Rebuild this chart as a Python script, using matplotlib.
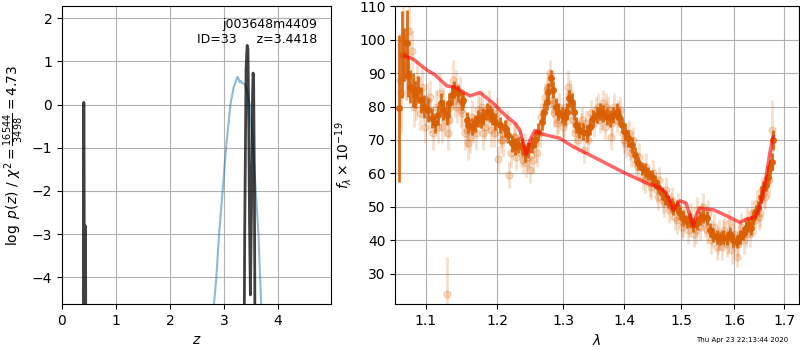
import matplotlib
matplotlib.use('Agg')
import matplotlib.pyplot as plt
from matplotlib.ticker import NullLocator

# fit summary
root = 'j003648m4409'
obj_id = 33
z_best = 3.4418
chi2_tot = 16544
dof = 3498
stamp = 'Thu Apr 23 22:13:44 2020'

# log p(z) from the fine grid (values far below the axis are clipped)
z_pz = [0.00, 0.390, 0.402, 0.407, 0.421, 0.432, 0.436, 0.447, 1.50, 3.36,
        3.385, 3.41, 3.43, 3.445, 3.46, 3.475, 3.49, 3.51, 3.53, 3.54,
        3.55, 3.565, 3.58, 5.0]
log_pz = [-20, -9, 0.05, 0.03, -8, -2.81, -2.85, -9, -20, -9,
          -3, 0.8, 1.37, 1.3, -0.5, -2.8, -4.41, -2.5, 0.2, 0.73,
          0.6, -2, -7, -20]

# coarse-grid curve
z_coarse = [2.78, 2.81, 2.86, 2.91, 2.975, 3.04, 3.12, 3.18, 3.25, 3.27,
            3.29, 3.31, 3.33, 3.38, 3.43, 3.48, 3.54, 3.59, 3.64, 3.67, 3.71]
log_coarse = [-5.5, -4.7, -4.0, -3.0, -2.0, -1.0, 0.0, 0.4, 0.64, 0.6,
              0.52, 0.55, 0.5, 0.48, 0.3, 0.0, -1.0, -2.0, -3.0, -4.0, -5.2]

# binned spectrum
wave_bin = [1.0650, 1.0685, 1.0715, 1.0754, 1.0771, 1.0793, 1.0836, 1.0859, 1.0902, 1.0938,
            1.0982, 1.1035, 1.1081, 1.1126, 1.1170, 1.1207, 1.1238, 1.1285, 1.1316, 1.1353,
            1.1389, 1.1445, 1.1492, 1.1514, 1.1562, 1.1584, 1.1632, 1.1679, 1.1726, 1.1764,
            1.1797, 1.1846, 1.1893, 1.1927, 1.1966, 1.2039, 1.2112, 1.2160, 1.2211, 1.2260,
            1.2309, 1.2360, 1.2409, 1.2459, 1.2511, 1.2561, 1.2611, 1.2664, 1.2699, 1.2741,
            1.2765, 1.2803, 1.2843, 1.2885, 1.2921, 1.2975, 1.3027, 1.3063, 1.3095, 1.3133,
            1.3170, 1.3202, 1.3255, 1.3309, 1.3374, 1.3428, 1.3482, 1.3537, 1.3592, 1.3646,
            1.3703, 1.3758, 1.3813, 1.3870, 1.3914, 1.3954, 1.4010, 1.4067, 1.4125, 1.4181,
            1.4238, 1.4297, 1.4355, 1.4412, 1.4472, 1.4530, 1.4588, 1.4648, 1.4707, 1.4766,
            1.4827, 1.4856, 1.4917, 1.4977, 1.5037, 1.5100, 1.5160, 1.5221, 1.5284, 1.5345,
            1.5407, 1.5470, 1.5532, 1.5595, 1.5659, 1.5722, 1.5785, 1.5850, 1.5914, 1.5978,
            1.6044, 1.6108, 1.6173, 1.6226, 1.6271, 1.6319, 1.6370, 1.6424, 1.6470, 1.6518,
            1.6570, 1.6624, 1.6671, 1.6705, 1.6740, 1.6772]
flux_bin = [79.5, 95.5, 95.5, 99, 89, 86, 85, 83.5, 85, 82,
            80, 79, 76.5, 75, 77.5, 81, 79, 77.5, 81, 83.5,
            85, 84, 81.5, 82, 76, 74.5, 74, 75, 76.5, 76,
            77, 78.5, 78, 77, 75.5, 74.5, 73.5, 71.5, 69, 68,
            68.5, 68, 66, 67, 68.5, 70, 72.5, 75.5, 78.5, 81.5,
            84.5, 88.5, 85, 80, 78.5, 77.5, 77, 78.5, 82.5, 81.5,
            78.5, 74.5, 73, 72.5, 72, 74, 76.5, 77.5, 78.5, 78,
            77, 76.5, 77.5, 78.5, 77, 74.5, 72.5, 70.5, 68.5, 65.5,
            63, 61.5, 61, 60, 59, 57.5, 56, 54, 52.5, 51.5,
            50.5, 49.6, 50, 48, 46.6, 45.6, 46, 44.6, 45, 46.6,
            47, 46.6, 43, 41.6, 41, 40.6, 41, 40.6, 42, 40,
            39.6, 41, 42, 43.6, 44.6, 43.6, 46.6, 48.6, 49.6, 53,
            55.6, 56.6, 59, 61.6, 63.5, 70]
err_bin = [22, 13, 8, 10, 6, 5, 5, 4, 4, 4,
           3.5, 3.5, 3, 3, 3, 3, 3, 3, 3, 3,
           2.5, 2.5, 2.5, 2.5, 2.5, 2.5, 2.5, 2.5, 2.5, 2.5,
           2.5, 2.5, 2.5, 2.5, 2.5, 2.5, 2.5, 2.5, 2.5, 2.5,
           2.5, 2.5, 2.5, 2.5, 2.5, 2.5, 2.5, 2.5, 2.5, 2.5,
           2.5, 2.5, 2.5, 2.5, 2.5, 2.5, 2.5, 2.5, 2.5, 2.5,
           2.5, 2.5, 2.5, 2.5, 2.5, 2.5, 2.5, 2.5, 2.5, 2.5,
           2.5, 2.5, 2.5, 2.5, 2.5, 2.5, 2.5, 2.5, 2.5, 2.5,
           2, 2, 2, 2, 2, 2, 2, 2, 2, 2,
           2, 2, 2, 2, 2, 2, 2, 2, 2, 2,
           2, 2, 2, 2, 2, 2, 2, 2, 2, 2,
           2, 2, 2, 2, 2, 2, 2, 2, 2, 2,
           2, 2, 2, 2, 2.5, 3]

# unbinned spectrum
wave_raw = [1.0660, 1.0700, 1.0735, 1.0783, 1.0815, 1.0850, 1.0880, 1.0920, 1.0955, 1.0995,
            1.1020, 1.1055, 1.1100, 1.1145, 1.1190, 1.1220, 1.1260, 1.1285, 1.1300, 1.1335,
            1.1370, 1.1410, 1.1430, 1.1465, 1.1500, 1.1540, 1.1575, 1.1610, 1.1650, 1.1700,
            1.1745, 1.1780, 1.1820, 1.1870, 1.1910, 1.1950, 1.1990, 1.2014, 1.2060, 1.2090,
            1.2135, 1.2175, 1.2200, 1.2240, 1.2280, 1.2330, 1.2380, 1.2430, 1.2480, 1.2530,
            1.2590, 1.2640, 1.2680, 1.2720, 1.2760, 1.2790, 1.2820, 1.2860, 1.2900, 1.2940,
            1.2990, 1.3040, 1.3080, 1.3110, 1.3150, 1.3190, 1.3230, 1.3280, 1.3330, 1.3360,
            1.3400, 1.3450, 1.3500, 1.3560, 1.3600, 1.3640, 1.3680, 1.3720, 1.3780, 1.3830,
            1.3880, 1.3930, 1.3970, 1.4030, 1.4080, 1.4110, 1.4150, 1.4200, 1.4260, 1.4320,
            1.4380, 1.4440, 1.4500, 1.4560, 1.4610, 1.4670, 1.4720, 1.4780, 1.4840, 1.4890,
            1.4950, 1.5010, 1.5060, 1.5120, 1.5180, 1.5240, 1.5300, 1.5350, 1.5410, 1.5450,
            1.5500, 1.5550, 1.5610, 1.5660, 1.5710, 1.5760, 1.5810, 1.5860, 1.5900, 1.5950,
            1.6000, 1.6044, 1.6080, 1.6140, 1.6190, 1.6250, 1.6300, 1.6350, 1.6400, 1.6450,
            1.6500, 1.6550, 1.6600, 1.6650, 1.6700, 1.6750,
            # second pass, interleaved
            1.0680, 1.0760, 1.0870, 1.0970, 1.1060, 1.1160, 1.1240, 1.1320, 1.1400, 1.1480,
            1.1560, 1.1630, 1.1720, 1.1800, 1.1880, 1.1970, 1.2050, 1.2120, 1.2260, 1.2350,
            1.2410, 1.2460, 1.2560, 1.2660, 1.2740, 1.2840, 1.2920, 1.3010, 1.3100, 1.3210,
            1.3300, 1.3420, 1.3530, 1.3620, 1.3700, 1.3800, 1.3900, 1.4000, 1.4100, 1.4230,
            1.4350, 1.4470, 1.4590, 1.4700, 1.4810, 1.4920, 1.5040, 1.5150, 1.5270, 1.5380,
            1.5480, 1.5580, 1.5680, 1.5780, 1.5880, 1.5980, 1.6110, 1.6220, 1.6330, 1.6480,
            1.6580, 1.6680]
flux_raw = [88, 100, 92, 102.5, 96.5, 80, 88, 78, 86, 74,
            82, 77, 72, 80, 84, 74, 76, 24, 72, 80,
            88, 86, 80, 84, 78, 72, 69, 71, 73, 72,
            78, 80, 74, 77, 73, 72, 78, 64.2, 72, 70,
            75, 59.5, 66, 71, 65, 70, 64, 63, 61, 64,
            66, 72, 78, 83, 86, 90, 82, 78, 75, 80,
            74, 80, 86, 84, 76, 72, 70, 74, 67, 75,
            70, 78, 75, 80, 76, 81, 74, 79, 71, 80,
            76, 79, 72, 69, 72, 66, 70, 63, 65, 59,
            62, 57, 60, 55, 58, 52, 55, 49, 52, 47,
            50, 44, 48, 43, 47, 42, 49, 44, 50, 45,
            48, 40, 44, 38, 42, 38, 43, 39, 45, 37,
            42, 35.1, 39, 44, 40, 46, 42, 48, 46, 51,
            48, 55, 53, 58, 62, 73,
            84, 90, 82, 80, 83, 74, 81, 76, 82, 79,
            73, 77, 79, 72, 80, 76, 70, 73, 71, 66,
            68, 65, 69, 77, 85, 81, 76, 75, 79, 75,
            76, 74, 79, 77, 80, 75, 78, 70, 68, 62,
            58, 56, 53, 51, 50, 46, 45, 45, 43, 47,
            43, 42, 40, 42, 40, 41, 42, 42, 45, 47,
            54, 58]
err_raw = [14, 12, 10, 8, 6, 6, 6, 5, 6, 5,
           5, 5, 5, 5, 6, 5, 5, 11, 5, 5,
           6, 5, 5, 5, 5, 5, 5, 5, 4, 5,
           5, 5, 4, 5, 5, 4, 5, 4, 4, 5,
           4, 4, 4, 4, 4, 4, 4, 4, 4, 4,
           4, 4, 4, 4, 4, 4, 4, 4, 4, 4,
           4, 4, 5, 4, 4, 4, 4, 4, 4, 4,
           4, 4, 4, 4, 4, 4, 4, 4, 4, 4,
           4, 4, 4, 4, 4, 4, 4, 4, 4, 4,
           4, 4, 4, 4, 4, 4, 4, 4, 4, 4,
           4, 4, 4, 4, 4, 4, 4, 4, 4, 4,
           4, 4, 4, 4, 4, 4, 4, 4, 4, 4,
           4, 3, 4, 4, 4, 4, 4, 4, 4, 4,
           4, 4, 4, 4, 5, 9,
           12, 8, 6, 5, 5, 5, 5, 5, 5, 5,
           5, 5, 5, 5, 5, 5, 4, 4, 4, 4,
           4, 4, 4, 4, 4, 4, 4, 4, 4, 4,
           4, 4, 4, 4, 4, 4, 4, 4, 4, 4,
           4, 4, 4, 4, 4, 4, 4, 4, 4, 4,
           4, 4, 4, 4, 4, 4, 4, 4, 4, 4,
           4, 5]

# best-fit model
wave_model = [1.0727, 1.0835, 1.1013, 1.1125, 1.1285, 1.1399, 1.1608, 1.1749, 1.1940, 1.2111,
              1.2273, 1.2340, 1.2385, 1.2424, 1.2450, 1.2485, 1.2560, 1.2662, 1.2945, 1.3156,
              1.3479, 1.4010, 1.4385, 1.4590, 1.4728, 1.4800, 1.4860, 1.4920, 1.4982, 1.5091,
              1.5170, 1.5226, 1.5280, 1.5337, 1.5600, 1.5851, 1.6110, 1.6241, 1.6404, 1.6503,
              1.6604, 1.6705, 1.6773]
flux_model = [95.2, 94.2, 91.0, 89.5, 86.2, 85.8, 83.2, 84.2, 81.0, 77.5,
              74.8, 72.5, 69.0, 65.8, 67.0, 70.0, 72.8, 71.8, 70.5, 68.0,
              65.0, 60.1, 57.1, 55.9, 54.3, 51.5, 49.1, 50.5, 51.8, 51.1,
              47.0, 44.3, 47.5, 49.6, 49.1, 47.3, 45.3, 46.3, 46.9, 50.1,
              56.6, 66.0, 71.0]

orange = '#d95f02'

fig = plt.figure(figsize=(8, 3.5), dpi=100)

# p(z) panel
ax = fig.add_axes([0.0775, 0.1314, 0.336, 0.851])
ax.plot(z_coarse, log_coarse, color='tab:blue', alpha=0.5, lw=1.5)
ax.plot(z_pz, log_pz, color='k', alpha=0.75, lw=2)
ax.set_xlim(0, 4.98)
ax.set_ylim(-4.62, 2.28)
ax.set_xticks([0, 1, 2, 3, 4])
ax.set_yticks([-4, -3, -2, -1, 0, 1, 2])
ax.grid(True)
ax.set_xlabel(r'$z$')
ax.set_ylabel(r'$\log\ p(z)$' + ' / ' +
              r'$\chi^2=\frac{{{0}}}{{{1}}}={2:.2f}$'.format(chi2_tot, dof, chi2_tot / dof))
ax.text(0.95, 0.96, '{0}\nID={1:<5d}  z={2:.4f}'.format(root, obj_id, z_best),
        ha='right', va='top', transform=ax.transAxes, fontsize=9)

# spectrum panel
ax2 = fig.add_axes([0.4941, 0.1314, 0.5046, 0.851])
ax2.errorbar(wave_raw, flux_raw, yerr=err_raw, marker='o', ms=5, linestyle='None',
             color=orange, alpha=0.2, elinewidth=2, zorder=2)
ax2.errorbar(wave_bin, flux_bin, yerr=err_bin, marker='o', ms=4, linestyle='None',
             color=orange, alpha=0.9, elinewidth=2, zorder=3)
ax2.plot(wave_model, flux_model, color='r', alpha=0.6, lw=2.5, zorder=4)
ax2.set_xscale('log')
ax2.set_xlim(1.0602, 1.7307)
ax2.set_ylim(20.9, 110.05)
xt = [1.1, 1.2, 1.3, 1.4, 1.5, 1.6, 1.7]
ax2.set_xticks(xt)
ax2.set_xticklabels(['{0:.1f}'.format(t) for t in xt])
ax2.xaxis.set_minor_locator(NullLocator())
ax2.set_yticks([30, 40, 50, 60, 70, 80, 90, 100, 110])
ax2.grid(True)
ax2.set_xlabel(r'$\lambda$')
ax2.set_ylabel(r'$f_\lambda\times 10^{-19}$')

fig.text(1 - 0.015, 0.02, stamp, ha='right', va='bottom', fontsize=5)

fig.savefig('out.png', dpi=100)
